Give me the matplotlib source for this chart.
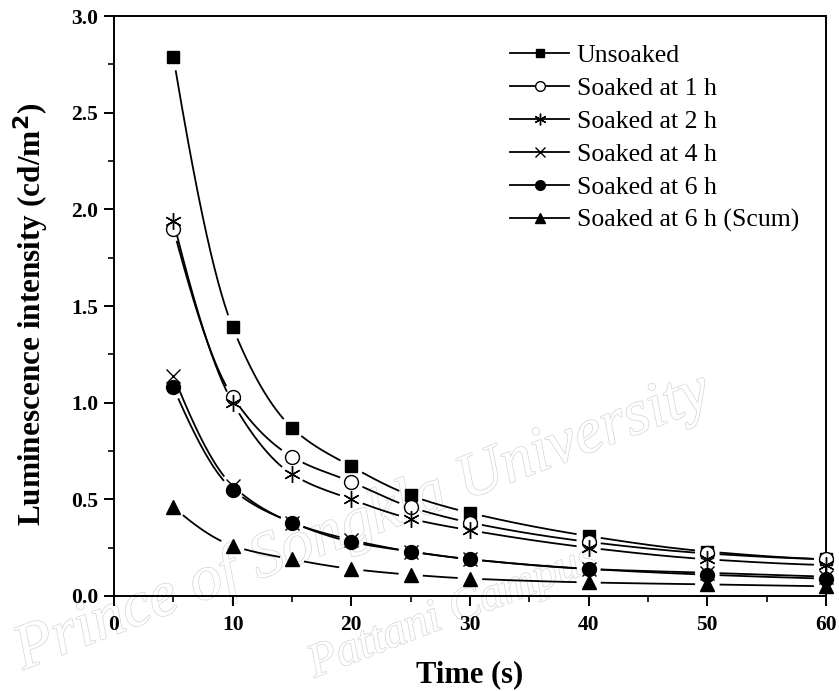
import numpy as np
import matplotlib
matplotlib.use("Agg")
import matplotlib.pyplot as plt
from matplotlib.ticker import MultipleLocator
import matplotlib.patheffects as pe

plt.rcParams['font.family'] = ['Liberation Serif', 'DejaVu Serif']

# Decay time (s)
time_s = [5, 10, 15, 20, 25, 30, 40, 50, 60]

# Luminescence intensity (cd/m^2)
unsoaked = [2.79, 1.39, 0.87, 0.67, 0.52, 0.43, 0.31, 0.23, 0.19]
soaked_1h = [1.90, 1.03, 0.72, 0.59, 0.46, 0.38, 0.28, 0.22, 0.19]
soaked_2h = [1.94, 1.00, 0.63, 0.50, 0.40, 0.34, 0.25, 0.19, 0.16]
soaked_4h = [1.14, 0.57, 0.38, 0.29, 0.23, 0.19, 0.14, 0.12, 0.10]
soaked_6h = [1.08, 0.55, 0.38, 0.28, 0.23, 0.19, 0.14, 0.11, 0.09]
soaked_6h_scum = [0.46, 0.26, 0.19, 0.14, 0.11, 0.09, 0.07, 0.06, 0.05]

series_labels = ["Unsoaked", "Soaked at 1 h", "Soaked at 2 h", "Soaked at 4 h",
                 "Soaked at 6 h", "Soaked at 6 h (Scum)"]
series_values = [unsoaked, soaked_1h, soaked_2h, soaked_4h, soaked_6h, soaked_6h_scum]

x_ticks = [0, 10, 20, 30, 40, 50, 60]
y_ticks = [0.0, 0.5, 1.0, 1.5, 2.0, 2.5, 3.0]

styles = [
    dict(marker='s', ms=9, mfc='black', mec='black', mew=1.0),
    dict(marker='o', ms=10, mfc='white', mec='black', mew=1.0),
    dict(marker=(6, 2, 0), ms=12, mfc='black', mec='black', mew=1.0),
    dict(marker='x', ms=10, mfc='black', mec='black', mew=1.0),
    dict(marker='o', ms=10, mfc='black', mec='black', mew=1.0),
    dict(marker='^', ms=10, mfc='black', mec='black', mew=1.0),
]


def pchip(x, y, xs):
    """Shape-preserving piecewise cubic interpolation."""
    x = np.asarray(x, float)
    y = np.asarray(y, float)
    h = np.diff(x)
    d = np.diff(y) / h
    n = len(x)
    m = np.zeros(n)
    for k in range(1, n - 1):
        if d[k - 1] * d[k] > 0:
            w1 = 2 * h[k] + h[k - 1]
            w2 = h[k] + 2 * h[k - 1]
            m[k] = (w1 + w2) / (w1 / d[k - 1] + w2 / d[k])
    m[0] = ((2 * h[0] + h[1]) * d[0] - h[0] * d[1]) / (h[0] + h[1])
    if np.sign(m[0]) != np.sign(d[0]):
        m[0] = 0
    m[-1] = ((2 * h[-1] + h[-2]) * d[-1] - h[-1] * d[-2]) / (h[-1] + h[-2])
    if np.sign(m[-1]) != np.sign(d[-1]):
        m[-1] = 0
    idx = np.clip(np.searchsorted(x, xs) - 1, 0, n - 2)
    t = (xs - x[idx]) / h[idx]
    h00 = 2 * t**3 - 3 * t**2 + 1
    h10 = t**3 - 2 * t**2 + t
    h01 = -2 * t**3 + 3 * t**2
    h11 = t**3 - t**2
    return (h00 * y[idx] + h10 * h[idx] * m[idx]
            + h01 * y[idx + 1] + h11 * h[idx] * m[idx + 1])


fig = plt.figure(figsize=(8.39, 6.91), dpi=100)
ax = fig.add_axes([0.1359, 0.1375, 0.8486, 0.8393])
ax.set_facecolor('none')
ax.set_xlim(0, 60)
ax.set_ylim(0, 3.0)

gap_px = 12.0
x_arr = np.asarray(time_s, float)
handles = []
for vals, st, lab in zip(series_values, styles, series_labels):
    y_arr = np.asarray(vals, float)
    xs = np.linspace(x_arr[0], x_arr[-1], 2000)
    ys = pchip(x_arr, y_arr, xs)
    # cut the curve around each data point, measured in display pixels
    curve_disp = ax.transData.transform(np.column_stack([xs, ys]))
    pts_disp = ax.transData.transform(np.column_stack([x_arr, y_arr]))
    dist = np.min(np.hypot(curve_disp[:, None, 0] - pts_disp[None, :, 0],
                           curve_disp[:, None, 1] - pts_disp[None, :, 1]), axis=1)
    ys_cut = np.where(dist > gap_px, ys, np.nan)
    ax.plot(xs, ys_cut, color='black', lw=1.3, solid_capstyle='butt')
    ax.plot(x_arr, y_arr, linestyle='none', clip_on=False, zorder=3, **st)
    h, = ax.plot([], [], color='black', lw=1.3, label=lab,
                 **{**st, 'ms': st['ms'] * 0.7})
    handles.append(h)

ax.set_xticks(x_ticks)
ax.set_yticks(y_ticks)
ax.set_yticklabels([f"{v:.1f}" for v in y_ticks])
ax.xaxis.set_minor_locator(MultipleLocator(5))
ax.yaxis.set_minor_locator(MultipleLocator(0.25))
ax.tick_params(which='major', direction='out', length=7.5, width=1.4,
               labelsize=15.5, pad=4)
ax.tick_params(axis='x', which='major', pad=6)
ax.tick_params(which='minor', direction='out', length=4, width=1.2)
ax.tick_params(top=False, right=False)
for lbl in ax.get_xticklabels() + ax.get_yticklabels():
    lbl.set_fontweight('bold')
for sp in ax.spines.values():
    sp.set_linewidth(1.4)

ax.set_xlabel("Time (s)", fontsize=22, fontweight='bold')
ax.xaxis.set_label_coords(0.5, -0.11)
ax.set_ylabel(r"Luminescence intensity (cd/m$^{\mathbf{2}}$)", fontsize=22.5,
              fontweight='bold')
ax.yaxis.set_label_coords(-0.088, 0.485)

leg = ax.legend(handles=handles, loc='upper left', bbox_to_anchor=(0.531, 0.983),
                frameon=False, fontsize=18.5, handlelength=2.3, handletextpad=0.3,
                labelspacing=0.39, borderaxespad=0.3)

# faint outlined watermark behind the plot
wm_fx = [pe.withStroke(linewidth=1.0, foreground='#d4d4d4')]
fig.text(28, 8, "Prince of Songkla University", transform=None,
         fontsize=46, style='italic', color='white', rotation=21,
         rotation_mode='anchor', ha='left', va='bottom',
         path_effects=wm_fx, zorder=-1)
fig.text(318, 4, "Pattani Campus", transform=None,
         fontsize=34, style='italic', color='white', rotation=21,
         rotation_mode='anchor', ha='left', va='bottom',
         path_effects=wm_fx, zorder=-1)

fig.savefig("out.png", dpi=100)
